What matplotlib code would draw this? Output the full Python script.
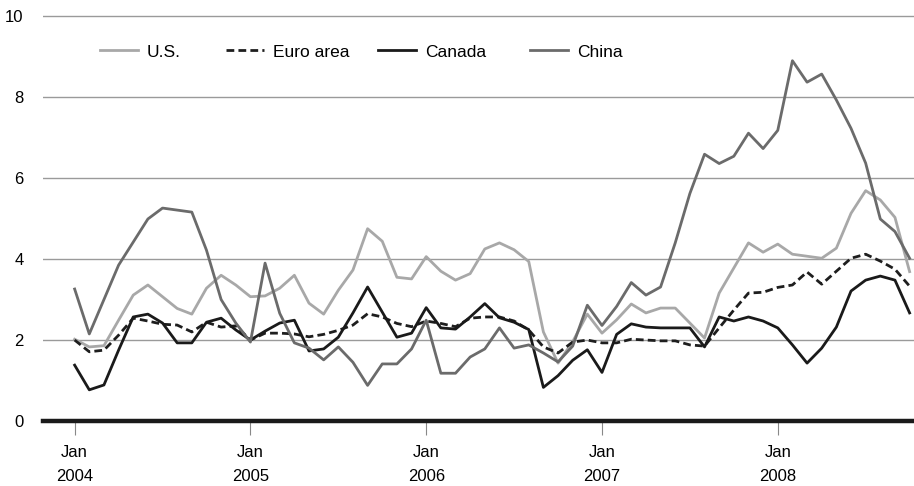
import numpy as np
import matplotlib
matplotlib.use("Agg")
import matplotlib.pyplot as plt
from matplotlib.legend import Legend

plt.rcParams['font.family'] = ['Liberation Sans', 'DejaVu Sans']

# monthly year-over-year inflation, Jan 2004 - Oct 2008
us = [2.02, 1.83, 1.86, 2.49, 3.11, 3.36, 3.07, 2.78, 2.64, 3.28, 3.60, 3.36,
      3.07, 3.09, 3.28, 3.60, 2.91, 2.64, 3.23, 3.73, 4.75, 4.44, 3.55, 3.51,
      4.06, 3.70, 3.48, 3.64, 4.25, 4.40, 4.23, 3.94, 2.20, 1.43, 1.96, 2.64,
      2.17, 2.50, 2.89, 2.67, 2.79, 2.79, 2.42, 2.05, 3.16, 3.78, 4.40, 4.17,
      4.37, 4.12, 4.07, 4.02, 4.27, 5.13, 5.69, 5.46, 5.03, 3.69]
euro = [2.00, 1.71, 1.75, 2.12, 2.54, 2.47, 2.39, 2.37, 2.20, 2.44, 2.32, 2.35,
        2.00, 2.17, 2.17, 2.15, 2.08, 2.14, 2.24, 2.37, 2.65, 2.57, 2.41, 2.33,
        2.47, 2.41, 2.33, 2.54, 2.57, 2.57, 2.47, 2.25, 1.83, 1.68, 1.95, 2.00,
        1.93, 1.93, 2.02, 2.00, 1.98, 1.98, 1.88, 1.85, 2.30, 2.74, 3.16, 3.18,
        3.30, 3.36, 3.68, 3.38, 3.70, 4.02, 4.12, 3.95, 3.75, 3.33]
canada = [1.38, 0.77, 0.89, 1.75, 2.57, 2.64, 2.42, 1.93, 1.93, 2.44, 2.54, 2.25,
          2.00, 2.22, 2.42, 2.49, 1.73, 1.78, 2.07, 2.67, 3.31, 2.69, 2.07, 2.17,
          2.80, 2.30, 2.27, 2.57, 2.90, 2.55, 2.44, 2.26, 0.83, 1.12, 1.50, 1.76,
          1.20, 2.14, 2.40, 2.32, 2.30, 2.30, 2.30, 1.83, 2.57, 2.47, 2.57, 2.47,
          2.30, 1.88, 1.43, 1.80, 2.32, 3.21, 3.48, 3.58, 3.48, 2.67]
china = [3.26, 2.15, 3.00, 3.85, 4.42, 4.99, 5.26, 5.21, 5.16, 4.22, 3.00, 2.42,
         1.95, 3.90, 2.66, 1.93, 1.80, 1.51, 1.83, 1.45, 0.88, 1.41, 1.41, 1.78,
         2.49, 1.18, 1.18, 1.58, 1.78, 2.30, 1.80, 1.88, 1.68, 1.46, 1.85, 2.86,
         2.36, 2.83, 3.42, 3.11, 3.31, 4.40, 5.62, 6.59, 6.36, 6.54, 7.11, 6.73,
         7.18, 8.90, 8.37, 8.57, 7.93, 7.23, 6.37, 4.99, 4.68, 4.02]

tick_months = [0, 12, 24, 36, 48]
tick_labels = ["Jan\n2004", "Jan\n2005", "Jan\n2006", "Jan\n2007", "Jan\n2008"]
y_ticks = [0, 2, 4, 6, 8, 10]

months = np.arange(len(us))

fig = plt.figure(figsize=(9.14, 4.86), dpi=100)
ax = fig.add_axes([43 / 914, 65 / 486, 871 / 914, 421 / 486])

for y in y_ticks[1:]:
    ax.axhline(y, color='#9a9a9a', lw=1.0, zorder=1)

l_us, = ax.plot(months, us, color='#a8a8a8', lw=2.0, label='U.S.', zorder=3)
l_eu, = ax.plot(months, euro, color='#1e1e1e', lw=2.0, dashes=(2.8, 1.5), label='Euro area', zorder=3)
l_ca, = ax.plot(months, canada, color='#1a1a1a', lw=2.0, label='Canada', zorder=3)
l_cn, = ax.plot(months, china, color='#6b6b6b', lw=2.0, label='China', zorder=3)

ax.set_xlim(-2.16, 57.3)
ax.set_ylim(0, 10.4)

for side in ['top', 'right', 'left']:
    ax.spines[side].set_visible(False)
ax.spines['bottom'].set_linewidth(3.2)
ax.spines['bottom'].set_color('#1a1a1a')

ax.set_xticks(tick_months)
ax.set_xticklabels(tick_labels, fontsize=12, linespacing=1.75)
ax.tick_params(axis='x', length=10, width=0.8, color='#888888', pad=7)
ax.set_yticks(y_ticks)
ax.set_yticklabels([str(v) for v in y_ticks], fontsize=12)
ax.tick_params(axis='y', length=0, pad=14)

# legend entries placed one by one (pixel x of each handle start)
leg_x = [100, 226, 378, 530]
leg_y = (421 - 52) / 421
for line, xp in zip([l_us, l_eu, l_ca, l_cn], leg_x):
    lg = Legend(ax, [line], [line.get_label()], loc='center left',
                bbox_to_anchor=((xp - 43) / 871, leg_y), frameon=False,
                fontsize=12.5, handlelength=2.2, handletextpad=0.5,
                borderpad=0, borderaxespad=0)
    ax.add_artist(lg)

fig.savefig('out.png', dpi=100)
